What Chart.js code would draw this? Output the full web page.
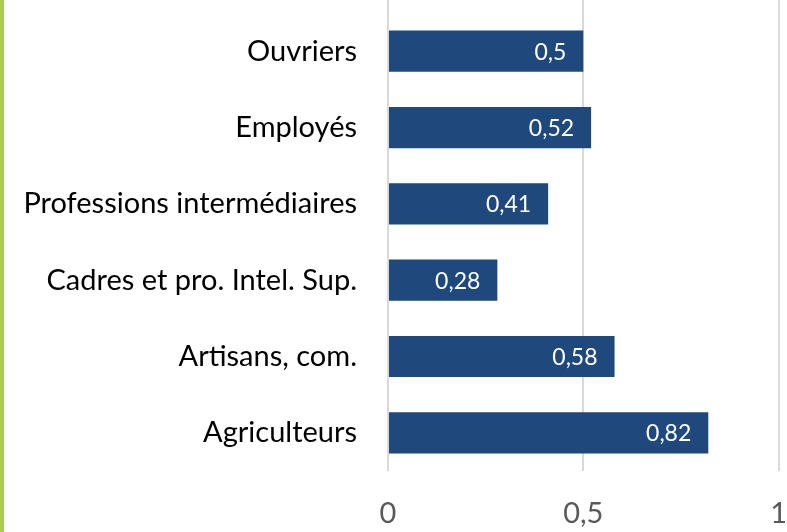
<!DOCTYPE html>
<html>
<head>
<meta charset="utf-8">
<script src="https://cdn.jsdelivr.net/npm/chart.js@4"></script>
<style>
  html,body{margin:0;padding:0;background:#fff;}
  #wrap{position:relative;width:787px;height:532px;}
  #bar{position:absolute;left:0;top:0;width:4px;height:532px;background:#A6CE49;}
</style>
</head>
<body>
<div id="wrap">
  <div id="bar"></div>
  <canvas id="myChart" width="787" height="532"></canvas>
</div>
<script>
const categories=['Ouvriers','Employés','Professions intermédiaires','Cadres et pro. Intel. Sup.','Artisans, com.','Agriculteurs'];
const values=[0.5,0.52,0.41,0.28,0.58,0.82];
const xTicks=[0,0.5,1];

const fmt=v=>String(v).replace('.',',');

// gridlines go up to the top of the picture
const gridUp={
  id:'gridUp',
  beforeDatasetsDraw(chart){
    const ctx=chart.ctx, x=chart.scales.x, top=chart.chartArea.top;
    ctx.save();
    ctx.strokeStyle='#D9D9D9';
    ctx.lineWidth=2;
    xTicks.forEach(t=>{
      const px=Math.round(x.getPixelForValue(t));
      ctx.beginPath();ctx.moveTo(px,0);ctx.lineTo(px,top);ctx.stroke();
    });
    ctx.restore();
  }
};

// value labels inside the end of each bar
const barLabels={
  id:'barLabels',
  afterDatasetsDraw(chart){
    const ctx=chart.ctx;
    ctx.save();
    ctx.fillStyle='#fff';
    ctx.font='23px Lato';
    ctx.textAlign='right';
    ctx.textBaseline='middle';
    chart.getDatasetMeta(0).data.forEach((el,i)=>{
      ctx.fillText(fmt(values[i]),el.x-17,el.y+1);
    });
    ctx.restore();
  }
};

const ctx=document.getElementById('myChart').getContext('2d');
new Chart(ctx,{
  type:'bar',
  data:{
    labels:categories,
    datasets:[{
      data:values,
      backgroundColor:'#1F497D',
      barPercentage:0.54,
      categoryPercentage:1
    }]
  },
  options:{
    indexAxis:'y',
    responsive:false,
    animation:false,
    layout:{padding:{top:13,right:0,left:0,bottom:0}},
    plugins:{legend:{display:false},tooltip:{enabled:false}},
    scales:{
      x:{
        min:0,max:1,
        afterBuildTicks(s){s.ticks=xTicks.map(v=>({value:v}));},
        afterFit(s){s.height=61;},
        grid:{color:'#D9D9D9',lineWidth:2,drawTicks:true,tickLength:25,tickColor:'rgba(0,0,0,0)'},
        border:{display:false},
        ticks:{font:{family:'Lato',size:29},color:'#595959',padding:0,callback:v=>fmt(v)}
      },
      y:{
        grid:{display:true,drawOnChartArea:false,drawTicks:true,tickLength:31,tickColor:'rgba(0,0,0,0)'},
        border:{display:false},
        afterFit(s){s.width=388;},
        ticks:{font:{family:'Lato',size:29,lineHeight:0.9},color:'#000',padding:0}
      }
    }
  },
  plugins:[gridUp,barLabels]
});
</script>
</body>
</html>
